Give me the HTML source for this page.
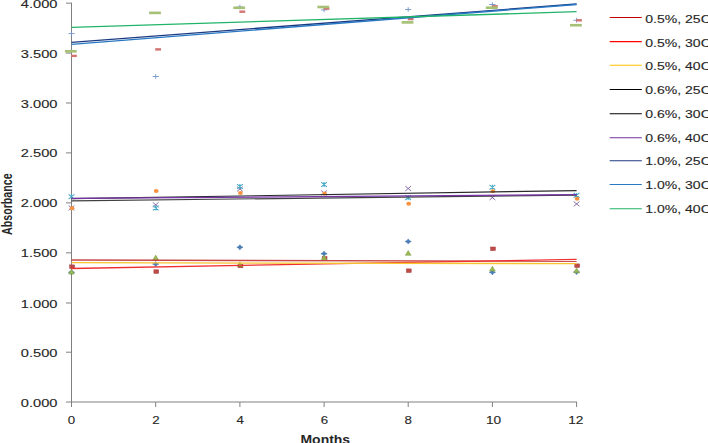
<!DOCTYPE html><html><head><meta charset="utf-8"><title>Absorbance vs Months</title><style>
html,body{margin:0;padding:0;background:#fff;width:708px;height:443px;overflow:hidden}
svg{position:absolute;left:0;top:0;display:block}
text{font-family:"Liberation Sans",sans-serif;fill:#262626}
text.n{stroke:#2a2a2a;stroke-width:0.12px}
</style></head><body>
<svg width="708" height="443" viewBox="0 0 708 443">
<rect width="708" height="443" fill="#fff"/>
<g stroke="#808080" stroke-width="1" fill="none">
<line x1="71.5" y1="2.7" x2="71.5" y2="402.0"/>
<line x1="71.0" y1="402.0" x2="577.1" y2="402.0"/>
<line x1="66" y1="402.0" x2="71.5" y2="402.0"/>
<line x1="66" y1="352.2" x2="71.5" y2="352.2"/>
<line x1="66" y1="303.0" x2="71.5" y2="303.0"/>
<line x1="66" y1="252.85" x2="71.5" y2="252.85"/>
<line x1="66" y1="202.9" x2="71.5" y2="202.9"/>
<line x1="66" y1="152.9" x2="71.5" y2="152.9"/>
<line x1="66" y1="103.0" x2="71.5" y2="103.0"/>
<line x1="66" y1="53.1" x2="71.5" y2="53.1"/>
<line x1="66" y1="3.15" x2="71.5" y2="3.15"/>
<line x1="71.5" y1="402.0" x2="71.5" y2="407"/>
<line x1="155.7" y1="402.0" x2="155.7" y2="407"/>
<line x1="239.9" y1="402.0" x2="239.9" y2="407"/>
<line x1="324.1" y1="402.0" x2="324.1" y2="407"/>
<line x1="408.2" y1="402.0" x2="408.2" y2="407"/>
<line x1="492.4" y1="402.0" x2="492.4" y2="407"/>
<line x1="576.6" y1="402.0" x2="576.6" y2="407"/>
</g>
<text class="n" x="20.8" y="406.5" font-size="11.6" textLength="36.6" lengthAdjust="spacingAndGlyphs">0.000</text>
<text class="n" x="20.8" y="356.7" font-size="11.6" textLength="36.6" lengthAdjust="spacingAndGlyphs">0.500</text>
<text class="n" x="20.8" y="307.5" font-size="11.6" textLength="36.6" lengthAdjust="spacingAndGlyphs">1.000</text>
<text class="n" x="20.8" y="257.4" font-size="11.6" textLength="36.6" lengthAdjust="spacingAndGlyphs">1.500</text>
<text class="n" x="20.8" y="207.4" font-size="11.6" textLength="36.6" lengthAdjust="spacingAndGlyphs">2.000</text>
<text class="n" x="20.8" y="157.4" font-size="11.6" textLength="36.6" lengthAdjust="spacingAndGlyphs">2.500</text>
<text class="n" x="20.8" y="107.5" font-size="11.6" textLength="36.6" lengthAdjust="spacingAndGlyphs">3.000</text>
<text class="n" x="20.8" y="57.6" font-size="11.6" textLength="36.6" lengthAdjust="spacingAndGlyphs">3.500</text>
<text class="n" x="20.8" y="7.7" font-size="11.6" textLength="36.6" lengthAdjust="spacingAndGlyphs">4.000</text>
<text class="n" x="67.80" y="424" font-size="11" textLength="7.4" lengthAdjust="spacingAndGlyphs">0</text>
<text class="n" x="152.15" y="424" font-size="11" textLength="7.4" lengthAdjust="spacingAndGlyphs">2</text>
<text class="n" x="236.40" y="424" font-size="11" textLength="7.4" lengthAdjust="spacingAndGlyphs">4</text>
<text class="n" x="320.80" y="424" font-size="11" textLength="7.4" lengthAdjust="spacingAndGlyphs">6</text>
<text class="n" x="404.55" y="424" font-size="11" textLength="7.4" lengthAdjust="spacingAndGlyphs">8</text>
<text class="n" x="485.95" y="424" font-size="11" textLength="15.2" lengthAdjust="spacingAndGlyphs">10</text>
<text class="n" x="568.15" y="424" font-size="11" textLength="15.2" lengthAdjust="spacingAndGlyphs">12</text>
<text x="300.5" y="444" font-size="13" font-weight="bold" textLength="49.6" lengthAdjust="spacingAndGlyphs">Months</text>
<text transform="translate(11.9,234.9) rotate(-90)" x="0" y="0" font-size="14" font-weight="bold" textLength="61.5" lengthAdjust="spacingAndGlyphs">Absorbance</text>
<path d="M68.4 272.3L70.4 271.3L71.5 269.7L72.6 271.3L74.6 272.3L72.6 273.3L71.5 274.9L70.4 273.3Z" fill="#4A7EBB" stroke="#3A6AA5" stroke-width="0.5"/>
<path d="M152.6 264.1L154.6 263.1L155.7 261.5L156.8 263.1L158.8 264.1L156.8 265.1L155.7 266.7L154.6 265.1Z" fill="#4A7EBB" stroke="#3A6AA5" stroke-width="0.5"/>
<path d="M236.8 247.3L238.8 246.3L239.9 244.7L241.0 246.3L243.0 247.3L241.0 248.3L239.9 249.9L238.8 248.3Z" fill="#4A7EBB" stroke="#3A6AA5" stroke-width="0.5"/>
<path d="M320.9 253.7L322.9 252.7L324.1 251.1L325.2 252.7L327.2 253.7L325.2 254.7L324.1 256.3L322.9 254.7Z" fill="#4A7EBB" stroke="#3A6AA5" stroke-width="0.5"/>
<path d="M405.1 241.5L407.1 240.5L408.2 238.9L409.3 240.5L411.3 241.5L409.3 242.5L408.2 244.1L407.1 242.5Z" fill="#4A7EBB" stroke="#3A6AA5" stroke-width="0.5"/>
<path d="M489.3 272.3L491.3 271.3L492.4 269.7L493.5 271.3L495.5 272.3L493.5 273.3L492.4 274.9L491.3 273.3Z" fill="#4A7EBB" stroke="#3A6AA5" stroke-width="0.5"/>
<path d="M573.5 272.0L575.5 271.0L576.6 269.4L577.7 271.0L579.7 272.0L577.7 273.0L576.6 274.6L575.5 273.0Z" fill="#4A7EBB" stroke="#3A6AA5" stroke-width="0.5"/>
<rect x="69.7" y="264.9" width="4.8" height="3.6" fill="#BE4B48" stroke="#A33B38" stroke-width="0.5"/>
<rect x="153.9" y="269.8" width="4.8" height="3.6" fill="#BE4B48" stroke="#A33B38" stroke-width="0.5"/>
<rect x="238.1" y="264.2" width="4.8" height="3.6" fill="#BE4B48" stroke="#A33B38" stroke-width="0.5"/>
<rect x="322.2" y="256.7" width="4.8" height="3.6" fill="#BE4B48" stroke="#A33B38" stroke-width="0.5"/>
<rect x="406.4" y="268.9" width="4.8" height="3.6" fill="#BE4B48" stroke="#A33B38" stroke-width="0.5"/>
<rect x="490.6" y="247.0" width="4.8" height="3.6" fill="#BE4B48" stroke="#A33B38" stroke-width="0.5"/>
<rect x="574.8" y="263.9" width="4.8" height="3.6" fill="#BE4B48" stroke="#A33B38" stroke-width="0.5"/>
<path d="M71.5 269.3L74.4 274.1L68.6 274.1Z" fill="#98B954" stroke="#7A9A3F" stroke-width="0.5"/>
<path d="M155.7 255.1L158.6 259.9L152.8 259.9Z" fill="#98B954" stroke="#7A9A3F" stroke-width="0.5"/>
<path d="M239.9 261.8L242.8 266.6L237.0 266.6Z" fill="#98B954" stroke="#7A9A3F" stroke-width="0.5"/>
<path d="M324.1 255.3L326.9 260.1L321.2 260.1Z" fill="#98B954" stroke="#7A9A3F" stroke-width="0.5"/>
<path d="M408.2 250.5L411.1 255.3L405.3 255.3Z" fill="#98B954" stroke="#7A9A3F" stroke-width="0.5"/>
<path d="M492.4 266.2L495.3 271.0L489.5 271.0Z" fill="#98B954" stroke="#7A9A3F" stroke-width="0.5"/>
<path d="M576.6 268.0L579.5 272.8L573.7 272.8Z" fill="#98B954" stroke="#7A9A3F" stroke-width="0.5"/>
<path d="M68.6 205.6L74.4 210.4M74.4 205.6L68.6 210.4" stroke="#7D60A0" stroke-width="0.9"/>
<path d="M152.8 202.4L158.6 207.2M158.6 202.4L152.8 207.2" stroke="#7D60A0" stroke-width="0.9"/>
<path d="M237.0 186.6L242.8 191.4M242.8 186.6L237.0 191.4" stroke="#7D60A0" stroke-width="0.9"/>
<path d="M321.2 190.6L326.9 195.4M326.9 190.6L321.2 195.4" stroke="#7D60A0" stroke-width="0.9"/>
<path d="M405.3 186.1L411.1 190.9M411.1 186.1L405.3 190.9" stroke="#7D60A0" stroke-width="0.9"/>
<path d="M489.5 195.2L495.3 200.0M495.3 195.2L489.5 200.0" stroke="#7D60A0" stroke-width="0.9"/>
<path d="M573.7 201.5L579.5 206.3M579.5 201.5L573.7 206.3" stroke="#7D60A0" stroke-width="0.9"/>
<path d="M68.6 194.3L74.4 199.1M74.4 194.3L68.6 199.1M71.5 194.3L71.5 199.1" stroke="#46AAC5" stroke-width="1.1"/>
<path d="M152.8 205.6L158.6 210.4M158.6 205.6L152.8 210.4M155.7 205.6L155.7 210.4" stroke="#46AAC5" stroke-width="1.1"/>
<path d="M237.0 184.1L242.8 188.9M242.8 184.1L237.0 188.9M239.9 184.1L239.9 188.9" stroke="#46AAC5" stroke-width="1.1"/>
<path d="M321.2 182.1L326.9 186.9M326.9 182.1L321.2 186.9M324.1 182.1L324.1 186.9" stroke="#46AAC5" stroke-width="1.1"/>
<path d="M405.3 195.2L411.1 200.0M411.1 195.2L405.3 200.0M408.2 195.2L408.2 200.0" stroke="#46AAC5" stroke-width="1.1"/>
<path d="M489.5 184.8L495.3 189.6M495.3 184.8L489.5 189.6M492.4 184.8L492.4 189.6" stroke="#46AAC5" stroke-width="1.1"/>
<path d="M573.7 192.9L579.5 197.7M579.5 192.9L573.7 197.7M576.6 192.9L576.6 197.7" stroke="#46AAC5" stroke-width="1.1"/>
<ellipse cx="72.0" cy="208.2" rx="2.4" ry="2.0" fill="#F69240"/>
<ellipse cx="156.2" cy="191.0" rx="2.4" ry="2.0" fill="#F69240"/>
<ellipse cx="240.4" cy="193.0" rx="2.4" ry="2.0" fill="#F69240"/>
<ellipse cx="324.6" cy="193.6" rx="2.4" ry="2.0" fill="#F69240"/>
<ellipse cx="408.7" cy="203.7" rx="2.4" ry="2.0" fill="#F69240"/>
<ellipse cx="492.9" cy="191.3" rx="2.4" ry="2.0" fill="#F69240"/>
<ellipse cx="577.1" cy="198.7" rx="2.4" ry="2.0" fill="#F69240"/>
<path d="M68.4 33.6L74.6 33.6M71.5 31.3L71.5 35.9" stroke="#7094CC" stroke-width="0.9"/>
<path d="M152.6 76.5L158.8 76.5M155.7 74.2L155.7 78.8" stroke="#7094CC" stroke-width="0.9"/>
<path d="M236.8 7.0L243.0 7.0M239.9 4.7L239.9 9.3" stroke="#7094CC" stroke-width="0.9"/>
<path d="M320.9 9.9L327.2 9.9M324.1 7.6L324.1 12.2" stroke="#7094CC" stroke-width="0.9"/>
<path d="M405.1 9.5L411.3 9.5M408.2 7.2L408.2 11.8" stroke="#7094CC" stroke-width="0.9"/>
<path d="M489.3 4.5L495.5 4.5M492.4 2.2L492.4 6.8" stroke="#7094CC" stroke-width="0.9"/>
<path d="M573.5 20.3L579.7 20.3M576.6 18.0L576.6 22.6" stroke="#7094CC" stroke-width="0.9"/>
<rect x="71.0" y="54.7" width="5.8" height="2.4" fill="#D27370"/>
<rect x="155.2" y="48.2" width="5.8" height="2.4" fill="#D27370"/>
<rect x="239.4" y="10.5" width="5.8" height="2.4" fill="#D27370"/>
<rect x="323.6" y="7.4" width="5.8" height="2.4" fill="#D27370"/>
<rect x="407.7" y="17.9" width="5.8" height="2.4" fill="#D27370"/>
<rect x="491.9" y="5.1" width="5.8" height="2.4" fill="#D27370"/>
<rect x="576.1" y="19.1" width="5.8" height="2.4" fill="#D27370"/>
<rect x="64.9" y="50.0" width="11.8" height="2.6" fill="#A6C175"/>
<rect x="149.1" y="11.6" width="11.8" height="2.6" fill="#A6C175"/>
<rect x="233.3" y="6.5" width="11.8" height="2.6" fill="#A6C175"/>
<rect x="317.4" y="5.7" width="11.8" height="2.6" fill="#A6C175"/>
<rect x="401.6" y="21.1" width="11.8" height="2.6" fill="#A6C175"/>
<rect x="485.8" y="6.4" width="11.8" height="2.6" fill="#A6C175"/>
<rect x="570.0" y="23.9" width="11.8" height="2.6" fill="#A6C175"/>
<line x1="71.5" y1="260.0" x2="576.6" y2="261.3" stroke="#C84848" stroke-width="1.4"/>
<line x1="71.5" y1="268.5" x2="576.6" y2="259.4" stroke="#F03030" stroke-width="1.3"/>
<line x1="71.5" y1="262.7" x2="576.6" y2="263.6" stroke="#F8C430" stroke-width="1.3"/>
<line x1="71.5" y1="200.8" x2="576.6" y2="195.2" stroke="#404040" stroke-width="1.2"/>
<line x1="71.5" y1="198.7" x2="576.6" y2="190.6" stroke="#2a2a2a" stroke-width="1.2"/>
<line x1="71.5" y1="198.4" x2="576.6" y2="194.7" stroke="#7634A6" stroke-width="1.3"/>
<line x1="71.5" y1="42.4" x2="576.6" y2="4.0" stroke="#1C3A80" stroke-width="1.3"/>
<line x1="71.5" y1="44.4" x2="576.6" y2="4.5" stroke="#2878C4" stroke-width="1.3"/>
<line x1="71.5" y1="27.3" x2="576.6" y2="11.7" stroke="#20B468" stroke-width="1.3"/>
<line x1="609.7" y1="17.45" x2="641.8" y2="17.45" stroke="#C00000" stroke-width="1.1"/>
<text class="n" x="645.3" y="22.80" font-size="10.8" textLength="65.5" lengthAdjust="spacingAndGlyphs">0.5%, 25C</text>
<line x1="609.7" y1="41.60" x2="641.8" y2="41.60" stroke="#FF0000" stroke-width="1.1"/>
<text class="n" x="645.3" y="46.56" font-size="10.8" textLength="65.5" lengthAdjust="spacingAndGlyphs">0.5%, 30C</text>
<line x1="609.7" y1="65.30" x2="641.8" y2="65.30" stroke="#FFC000" stroke-width="1.1"/>
<text class="n" x="645.3" y="70.32" font-size="10.8" textLength="65.5" lengthAdjust="spacingAndGlyphs">0.5%, 40C</text>
<line x1="609.7" y1="89.50" x2="641.8" y2="89.50" stroke="#000000" stroke-width="1.1"/>
<text class="n" x="645.3" y="94.08" font-size="10.8" textLength="65.5" lengthAdjust="spacingAndGlyphs">0.6%, 25C</text>
<line x1="609.7" y1="113.70" x2="641.8" y2="113.70" stroke="#000000" stroke-width="1.1"/>
<text class="n" x="645.3" y="117.84" font-size="10.8" textLength="65.5" lengthAdjust="spacingAndGlyphs">0.6%, 30C</text>
<line x1="609.7" y1="137.70" x2="641.8" y2="137.70" stroke="#7030A0" stroke-width="1.1"/>
<text class="n" x="645.3" y="141.60" font-size="10.8" textLength="65.5" lengthAdjust="spacingAndGlyphs">0.6%, 40C</text>
<line x1="609.7" y1="160.70" x2="641.8" y2="160.70" stroke="#1C3A80" stroke-width="1.1"/>
<text class="n" x="645.3" y="165.36" font-size="10.8" textLength="65.5" lengthAdjust="spacingAndGlyphs">1.0%, 25C</text>
<line x1="609.7" y1="184.50" x2="641.8" y2="184.50" stroke="#2878C4" stroke-width="1.1"/>
<text class="n" x="645.3" y="189.12" font-size="10.8" textLength="65.5" lengthAdjust="spacingAndGlyphs">1.0%, 30C</text>
<line x1="609.7" y1="208.80" x2="641.8" y2="208.80" stroke="#20B468" stroke-width="1.1"/>
<text class="n" x="645.3" y="212.88" font-size="10.8" textLength="65.5" lengthAdjust="spacingAndGlyphs">1.0%, 40C</text>
</svg></body></html>
